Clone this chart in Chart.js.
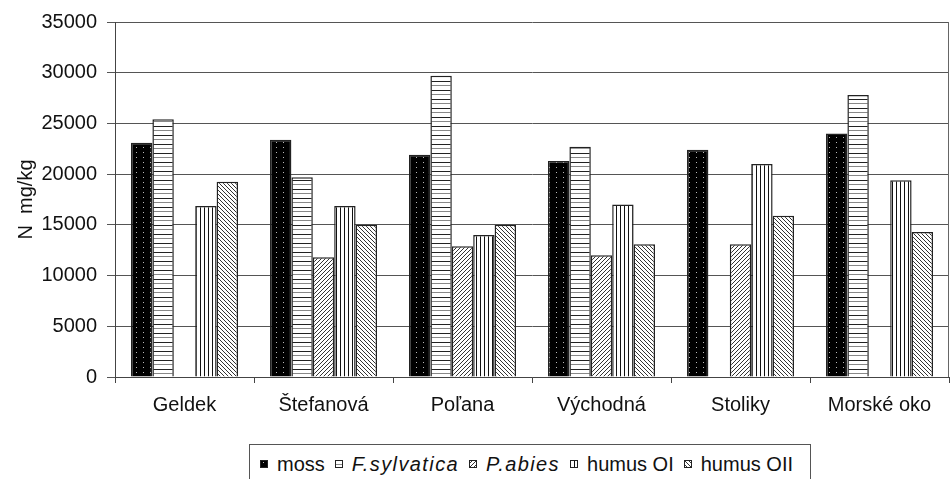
<!DOCTYPE html>
<html>
<head>
<meta charset="utf-8">
<script src="https://cdn.jsdelivr.net/npm/chart.js@4"></script>
<style>
  html, body { margin: 0; padding: 0; background: #fff; }
  #wrap { position: relative; width: 950px; height: 479px; overflow: hidden; }
  #legend {
    position: absolute; left: 249px; top: 444px; height: 40px; width: 562px;
    box-sizing: border-box; border: 1px solid #555; background: #fff;
    padding: 5px 0 0 10px;
    font: 20px "Liberation Sans", Arial, sans-serif; color: #111; white-space: nowrap;
  }
  #legend .item { display: inline-flex; align-items: center; margin-right: 10px; }
  #legend canvas { margin-right: 9px; }
  #legend i { font-style: italic; letter-spacing: 1.4px; }
</style>
</head>
<body>
<div id="wrap">
  <canvas id="chart" width="950" height="479"></canvas>
  <div id="legend"></div>
</div>
<script>
// --- data ---
const sites = ['Geldek', 'Štefanová', 'Poľana', 'Východná', 'Stoliky', 'Morské oko'];
const seriesNames = ['moss', 'F.sylvatica', 'P.abies', 'humus OI', 'humus OII'];
const italicNames = [false, true, true, false, false];
const moss       = [23100, 23400, 21900, 21300, 22400, 24000];
const fSylvatica = [25400, 19700, 29700, 22700, null,  27800];
const pAbies     = [null,  11800, 12900, 12000, 13100, null];
const humusOI    = [16850, 16850, 14000, 17000, 21000, 19400];
const humusOII   = [19250, 15000, 15000, 13100, 15900, 14300];
const yTicks = [0, 5000, 10000, 15000, 20000, 25000, 30000, 35000];

// --- fill patterns (black & white hatching like the original) ---
function makePattern(w, h, draw) {
  const c = document.createElement('canvas');
  c.width = w; c.height = h;
  const g = c.getContext('2d');
  draw(g);
  return { canvas: c, pattern: g.createPattern(c, 'repeat') };
}
const pats = [
  makePattern(7, 5, g => {            // moss: black with light dots
    g.fillStyle = '#000'; g.fillRect(0, 0, 7, 5);
    g.fillStyle = '#bbb'; g.fillRect(3, 2, 1, 1);
  }),
  makePattern(1, 9, g => {            // F.sylvatica: horizontal lines
    g.fillStyle = '#fff'; g.fillRect(0, 0, 1, 9);
    g.fillStyle = '#222'; g.fillRect(0, 0, 1, 1);
    g.fillStyle = '#888'; g.fillRect(0, 4, 1, 1);
  }),
  makePattern(4, 4, g => {            // P.abies: "/" hatching
    g.fillStyle = '#fff'; g.fillRect(0, 0, 4, 4);
    g.fillStyle = '#333';
    for (let i = 0; i < 4; i++) g.fillRect(3 - i, i, 1, 1);
  }),
  makePattern(4, 1, g => {            // humus OI: vertical lines
    g.fillStyle = '#fff'; g.fillRect(0, 0, 4, 1);
    g.fillStyle = '#111'; g.fillRect(0, 0, 1, 1);
  }),
  makePattern(4, 4, g => {            // humus OII: "\" hatching
    g.fillStyle = '#fff'; g.fillRect(0, 0, 4, 4);
    g.fillStyle = '#333';
    for (let i = 0; i < 4; i++) g.fillRect(i, i, 1, 1);
  })
];

const seriesData = [moss, fSylvatica, pAbies, humusOI, humusOII];
const FONT = "'Liberation Sans', Arial, sans-serif";

// frame on the right side of the plot area
const frame = {
  id: 'frame',
  afterDraw(chart) {
    const { ctx, chartArea: a } = chart;
    ctx.save();
    ctx.strokeStyle = '#666';
    ctx.lineWidth = 1;
    ctx.beginPath();
    ctx.moveTo(a.right - 0.5, a.top);
    ctx.lineTo(a.right - 0.5, a.bottom);
    ctx.stroke();
    ctx.restore();
  }
};

new Chart(document.getElementById('chart'), {
  type: 'bar',
  data: {
    labels: sites,
    datasets: seriesNames.map((name, i) => ({
      label: name,
      data: seriesData[i],
      backgroundColor: pats[i].pattern,
      borderColor: '#222',
      borderWidth: 1.5,
      borderSkipped: 'bottom',
      barPercentage: 1,
      categoryPercentage: 0.77
    }))
  },
  options: {
    responsive: false,
    animation: false,
    layout: { padding: { top: 20, right: 1, bottom: 60, left: 0 } },
    plugins: { legend: { display: false }, tooltip: { enabled: false } },
    scales: {
      x: {
        grid: { display: true, drawOnChartArea: false, offset: true, tickLength: 6, color: '#444' },
        border: { display: true, color: '#444' },
        ticks: { color: '#111', font: { family: FONT, size: 20 }, padding: 10 },
        afterFit(s) { s.height = 42; }
      },
      y: {
        min: 0, max: 35000,
        afterBuildTicks(s) { s.ticks = yTicks.map(v => ({ value: v })); },
        grid: { color: '#555', tickLength: 8 },
        border: { display: true, color: '#444' },
        ticks: { color: '#111', font: { family: FONT, size: 20 }, padding: 10, callback: v => String(v) },
        title: { display: true, text: 'N  mg/kg', color: '#111', font: { family: FONT, size: 20 }, padding: { top: 14, bottom: 0 } },
        afterFit(s) { s.width = 115; }
      }
    }
  },
  plugins: [frame]
});

// --- legend (HTML so the species names can be italic) ---
const legend = document.getElementById('legend');
seriesNames.forEach((name, i) => {
  const item = document.createElement('span');
  item.className = 'item';
  const sw = document.createElement('canvas');
  sw.width = 8; sw.height = 8;
  const g = sw.getContext('2d');
  g.fillStyle = g.createPattern(pats[i].canvas, 'repeat');
  g.fillRect(0, 0, 8, 8);
  g.strokeStyle = '#222'; g.lineWidth = 1;
  g.strokeRect(0.5, 0.5, 7, 7);
  item.appendChild(sw);
  const t = document.createElement(italicNames[i] ? 'i' : 'span');
  t.textContent = name;
  item.appendChild(t);
  legend.appendChild(item);
});
</script>
</body>
</html>
